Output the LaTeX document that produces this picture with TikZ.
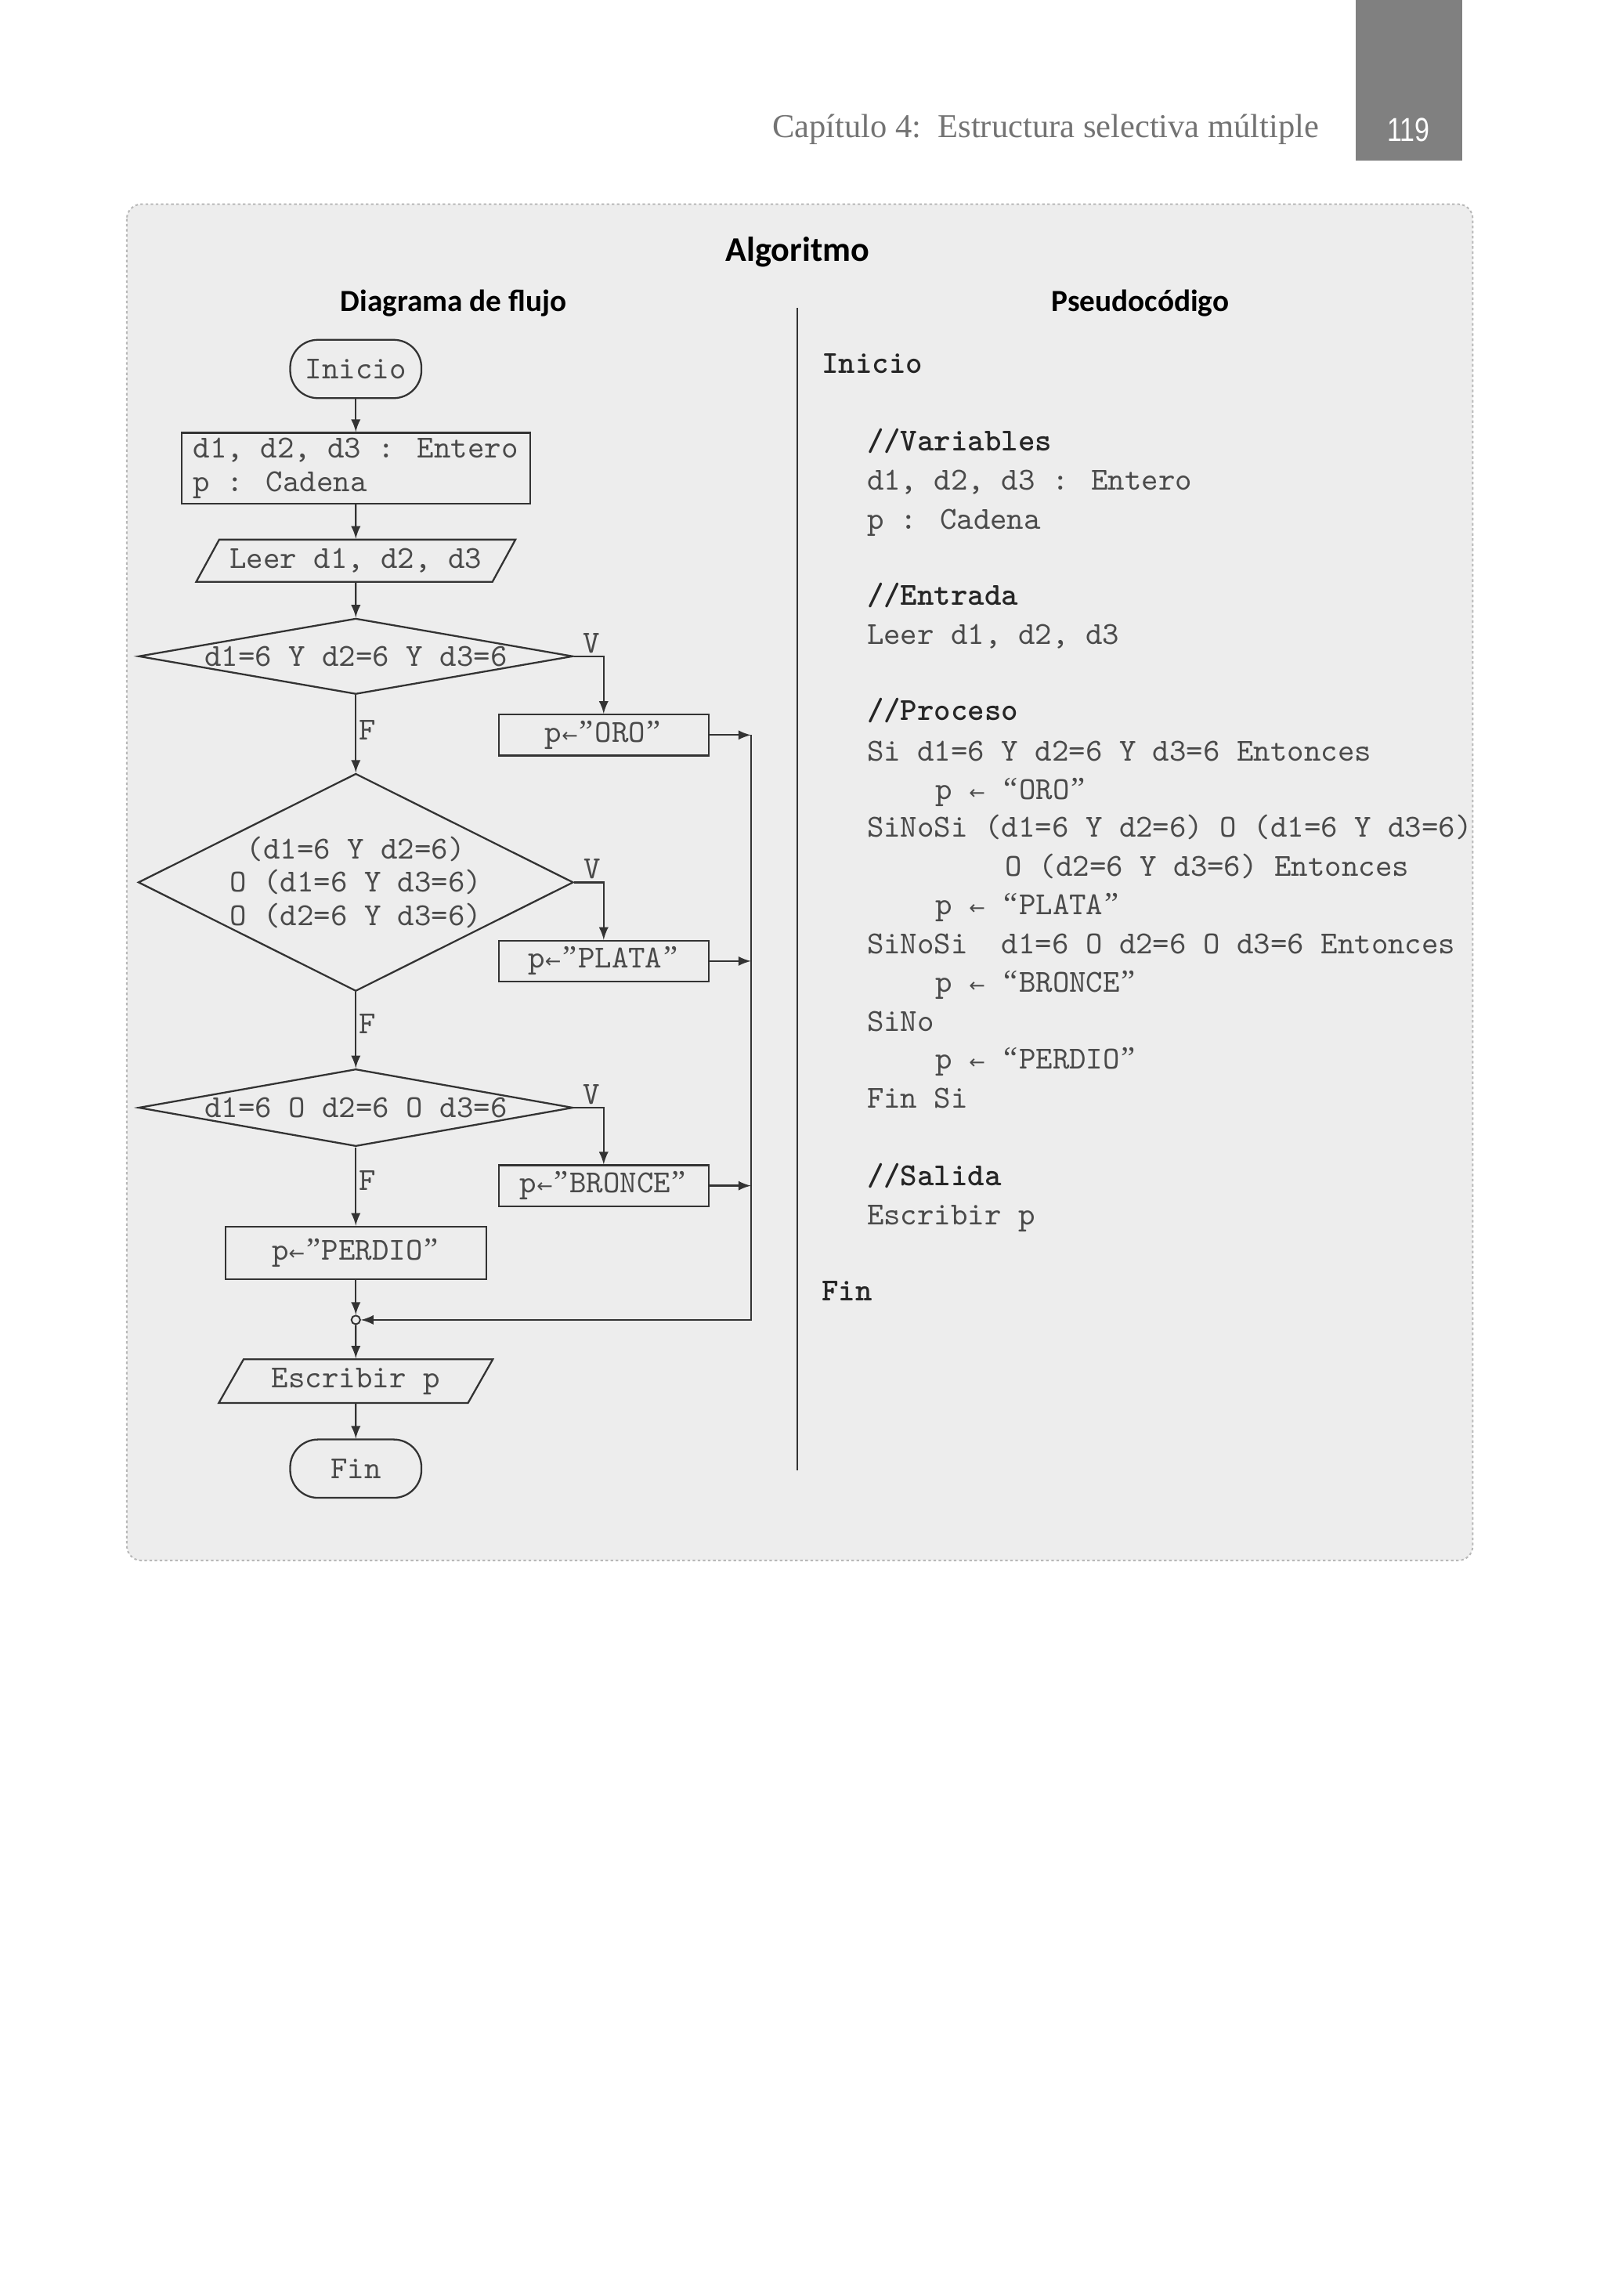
\documentclass[tikz,border=0pt]{standalone}
\usepackage{fontspec}
\usetikzlibrary{positioning,shapes.geometric}
\newfontfamily\codefont{lmmono10-regular.otf}[BoldFont=lmmonolt10-bold.otf]
\newfontfamily\titlefont{Carlito}
\newfontfamily\runfont{Liberation Serif}
\newfontfamily\numfont{Liberation Sans}
\newfontfamily\arrowfont{DejaVu Sans}
\newcommand\asg{{\arrowfont\fontsize{7.5}{8}\selectfont ←}}
\newcommand\oq{\makebox[6.6pt]{\runfont “}}
\newcommand\cq{\makebox[6.6pt]{\runfont ”}}
\definecolor{panelgray}{HTML}{EDEDED}
\definecolor{panelline}{HTML}{B8B8B8}
\definecolor{linegray}{HTML}{333333}
\definecolor{textgray}{HTML}{4A4A4A}
\definecolor{tabgray}{HTML}{808080}

\begin{document}
\begin{tikzpicture}[x=0.02cm,y=-0.02cm,>=latex,line width=0.7pt,
	every node/.style={font={\codefont\fontsize{12.5}{13}\selectfont},text=textgray},
	term/.style={draw=linegray,rounded corners=0.38cm,minimum width=1.8cm,minimum height=0.8cm,inner sep=0pt},
	proc/.style={draw=linegray,rectangle,minimum height=0.56cm,inner sep=2pt},
	io/.style={draw=linegray,trapezium,trapezium left angle=52,trapezium right angle=128,trapezium stretches body,minimum height=0.58cm,inner sep=1pt},
	cond/.style={draw=linegray,diamond,inner sep=0pt,minimum width=5.96cm},
	flow/.style={->,draw=linegray},
	tag/.style={inner sep=1pt},
	code/.style={anchor=base west,inner sep=0pt},
	kw/.style={anchor=base west,inner sep=0pt,font={\codefont\bfseries\fontsize{12.5}{13}\selectfont},text=black!85}]
	\useasboundingbox (0,0) rectangle (1100,1574.3);
	% page head
	\fill [tabgray] (930,0) rectangle (1003,110);
	\node [font={\numfont\fontsize{13}{15}\selectfont},text=white] at (966,89) (Page) {\scalebox{0.8}[1]{119}};
	\node [font={\runfont\fontsize{13}{15}\selectfont},text=black!55,anchor=east] at (911,89) (Chapter) {Capítulo 4:\ \ Estructura selectiva múltiple};
	% panel
	\draw [panelline,fill=panelgray,rounded corners=0.2cm,line width=0.6pt,dash pattern=on 1pt off 1pt] (87,140) rectangle (1010,1070);
	\node [font={\titlefont\bfseries\fontsize{13.5}{16}\selectfont},text=black] at (547,173) (Algoritmo) {Algoritmo};
	\node [font={\titlefont\bfseries\fontsize{12}{14}\selectfont},text=black] at (311,208) (Diagrama) {Diagrama de flujo};
	\node [font={\titlefont\bfseries\fontsize{12}{14}\selectfont},text=black] at (782,208) (Pseudo) {Pseudocódigo};
	\draw [linegray,line width=0.6pt] (547,211) -- (547,1008);

	% flowchart
	\node [term] at (244,253) (Inicio) {Inicio};
	\node [proc,align=left,minimum width=4.78cm,minimum height=0.96cm] at (244,321) (Vars) {d1, d2, d3 : Entero\\p : Cadena};
	\node [io,minimum width=4.38cm] at (244,384.5) (Leer) {Leer d1, d2, d3};
	\node [cond,aspect=5.8,minimum height=1.04cm] at (244,450) (C1) {d1=6 Y d2=6 Y d3=6};
	\node [proc,minimum width=2.88cm] at (414,504) (Oro) {p\asg\cq ORO\cq};
	\node [cond,aspect=2,minimum height=2.92cm,align=center] at (244,605) (C2) {(d1=6 Y d2=6)\\O (d1=6 Y d3=6)\\O (d2=6 Y d3=6)};
	\node [proc,minimum width=2.88cm] at (414,659) (Plata) {p\asg\cq PLATA\cq};
	\node [cond,aspect=5.8,minimum height=1.06cm] at (244,759.5) (C3) {d1=6 O d2=6 O d3=6};
	\node [proc,minimum width=2.88cm] at (414,813) (Bronce) {p\asg\cq BRONCE\cq};
	\node [proc,minimum width=3.58cm,minimum height=0.72cm] at (244,859) (Perdio) {p\asg\cq PERDIO\cq};
	\node [circle,draw=linegray,inner sep=0pt,minimum size=0.12cm,line width=0.6pt] at (244,905) (Join) {};
	\node [io,minimum width=3.76cm,minimum height=0.6cm] at (244,947) (Escribir) {Escribir p};
	\node [term] at (244,1007) (Fin) {Fin};
	\coordinate (Bus) at (515,905);

	\draw [flow] (Inicio) -- (Vars);
	\draw [flow] (Vars) -- (Leer);
	\draw [flow] (Leer) -- (C1);
	\draw [flow] (C1.east) -| (Oro.north) node [tag,pos=0.3,above] {V};
	\draw [flow] (C1.south) -- (C2.north) node [tag,pos=0.45,right] {F};
	\draw [flow] (C2.east) -| (Plata.north) node [tag,pos=0.3,above] {V};
	\draw [flow] (C2.south) -- (C3.north) node [tag,pos=0.42,right] {F};
	\draw [flow] (C3.east) -| (Bronce.north) node [tag,pos=0.3,above] {V};
	\draw [flow] (C3.south) -- (Perdio.north) node [tag,pos=0.42,right] {F};
	\draw [flow] (Oro.east) -- (Oro.east -| Bus);
	\draw [flow] (Plata.east) -- (Plata.east -| Bus);
	\draw [flow] (Bronce.east) -- (Bronce.east -| Bus);
	\draw [flow] (Oro.east -| Bus) -- (Bus) -- (Join);
	\draw [flow] (Perdio) -- (Join);
	\draw [flow] (Join) -- (Escribir);
	\draw [flow] (Escribir) -- (Fin);

	% pseudocode
	\node [kw] at (563,256) (PInicio) {Inicio};
	\node [kw] at (594,309) (PVar) {//Variables};
	\node [code] at (594,336) (PDecl) {d1, d2, d3 : Entero};
	\node [code] at (594,363) (PCad) {p : Cadena};
	\node [kw] at (594,415) (PEnt) {//Entrada};
	\node [code] at (594,442) (PLeer) {Leer d1, d2, d3};
	\node [kw] at (594,494) (PProc) {//Proceso};
	\node [code] at (594,522) (PSi) {Si d1=6 Y d2=6 Y d3=6 Entonces};
	\node [code] at (641,548) (POro) {p \asg{} \oq ORO\cq};
	\node [code] at (594,574) (PSiNoA) {SiNoSi (d1=6 Y d2=6) O (d1=6 Y d3=6)};
	\node [code] at (689,601) (PSiNoB) {O (d2=6 Y d3=6) Entonces};
	\node [code] at (641,627) (PPlata) {p \asg{} \oq PLATA\cq};
	\node [code] at (594,654) (PSiNoC) {SiNoSi~ d1=6 O d2=6 O d3=6 Entonces};
	\node [code] at (641,680) (PBronce) {p \asg{} \oq BRONCE\cq};
	\node [code] at (594,707) (PSiNo) {SiNo};
	\node [code] at (641,733) (PPerdio) {p \asg{} \oq PERDIO\cq};
	\node [code] at (594,760) (PFinSi) {Fin Si};
	\node [kw] at (594,813) (PSal) {//Salida};
	\node [code] at (594,840) (PEsc) {Escribir p};
	\node [kw] at (563,892) (PFin) {Fin};
\end{tikzpicture}
\end{document}
